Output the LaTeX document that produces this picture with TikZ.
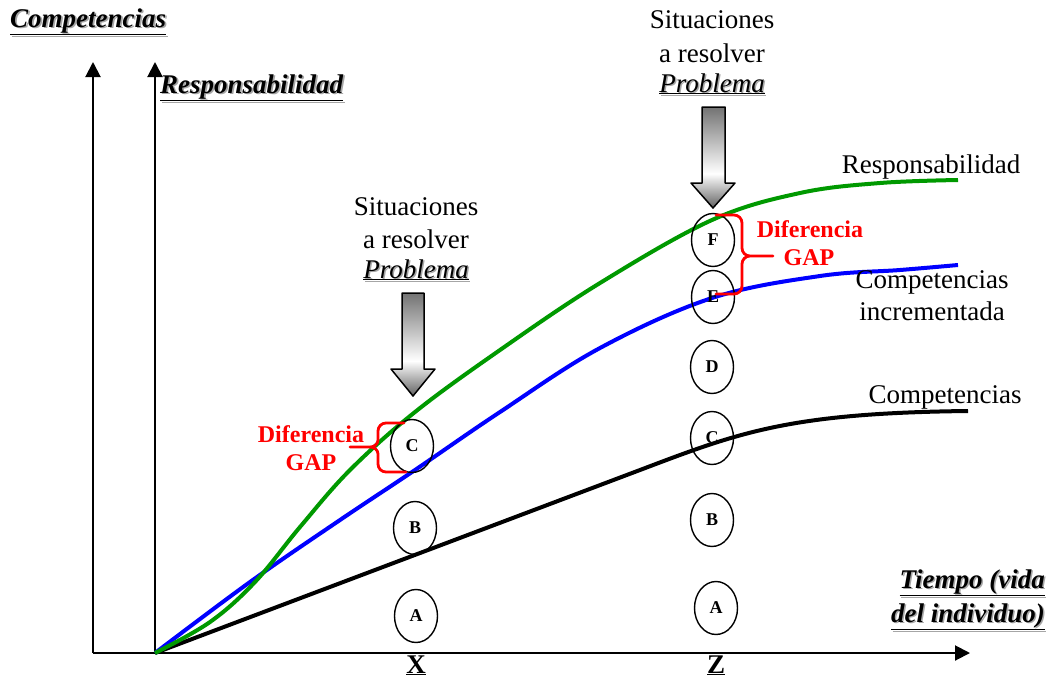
\documentclass[tikz,border=0pt]{standalone}
\usepackage{fontspec}
\setmainfont{Liberation Serif}
\usetikzlibrary{shapes.geometric,arrows.meta}

% bold italic underlined heading with a soft grey drop shadow
\newcommand{\shtext}[1]{\leavevmode\rlap{\kern1.6pt\raisebox{-1.6pt}{\textcolor{black!35}{#1}}}#1}

% grey-white-grey fill for the problem arrows (white band low on the shaft)
\pgfdeclareverticalshading{probshade}{100bp}{color(0bp)=(black!62); color(25bp)=(black!62);
  color(42bp)=(white); color(75bp)=(black!55); color(100bp)=(black!55)}

\begin{document}
\begin{tikzpicture}[x=1pt,y=-1pt,
  axis/.style={line width=2pt,-{Triangle[length=15pt,width=15pt]}},
  curve/.style={line width=4pt},
  stage/.style={ellipse,draw,line width=1.4pt,minimum width=43pt,minimum height=53pt,
    inner sep=0pt,font=\fontsize{18}{20}\selectfont\bfseries},
  big/.style={font=\fontsize{27}{32}\selectfont,inner sep=0pt},
  heading/.style={font=\fontsize{27}{32}\selectfont\bfseries\itshape,inner sep=0pt},
  gaplabel/.style={font=\fontsize{24}{27}\selectfont\bfseries,text=red,inner sep=0pt},
  brace/.style={draw=red,line width=2.8pt,line cap=round},
  blockarrow/.style={draw=black,line width=1.5pt,line join=round,shading=probshade}]
\useasboundingbox (0,0) rectangle (1052,681);

% axes
\coordinate (L0) at (93,653);
\coordinate (Ltop) at (93,62);
\coordinate (O) at (155,653);
\coordinate (Otop) at (155,62);
\coordinate (Tend) at (970,653);
\draw[axis] (L0) -- (Ltop);
\draw[axis] (O) -- (Otop);
\draw[line width=2pt] (L0) -- (O);
\draw[axis] (O) -- (Tend);

% curves
\draw[curve,black] (O) -- (640,470) .. controls (740,432) and (790,413) .. (968,411);
\draw[curve,blue] plot[smooth,tension=0.6] coordinates
  {(155,653) (250,582) (340,520) (415,470) (500,412) (600,348) (712,298) (820,276) (900,270) (958,265)};
\draw[curve,green!60!black] plot[smooth,tension=0.6] coordinates
  {(155,653) (210,622) (255,582) (300,527) (350,470) (415,412) (500,350) (600,283) (712,220) (800,193) (880,183) (958,180)};

% stages at X
\node[stage] (xa) at (416,616) {A};
\node[stage] (xb) at (415,528) {B};
\node[stage] (xc) at (412,446) {C};
% stages at Z
\node[stage] (za) at (716,608) {A};
\node[stage] (zb) at (712,520) {B};
\node[stage] (zc) at (712,438) {C};
\node[stage] (zd) at (712,367) {D};
\node[stage] (ze) at (713,297) {E};
\node[stage] (zf) at (713,240) {F};

% problem arrows
\path[blockarrow] (402,293) -- (424,293) -- (424,369) -- (435,369) -- (413,396) -- (391,369) -- (402,369) -- cycle;
\path[blockarrow] (702,107) -- (725,107) -- (725,183) -- (735,183) -- (713,208) -- (691,183) -- (702,183) -- cycle;

% gap braces
\draw[brace] (404,423) -- (386,423) to[out=180,in=90] (378,431) -- (378,440) to[out=-90,in=0] (370,447) -- (350,447)
  (370,447) to[out=0,in=90] (378,454) -- (378,464) to[out=-90,in=180] (386,472) -- (406,472);
\draw[brace] (716,215) -- (734,215) to[out=0,in=90] (742,223) -- (742,248) to[out=-90,in=180] (750,256) -- (773,256)
  (750,256) to[out=180,in=90] (742,264) -- (742,286) to[out=-90,in=0] (734,294) -- (716,294);

% gap labels
\node[gaplabel,anchor=base] (gx1) at (311,442) {Diferencia};
\node[gaplabel,anchor=base] (gx2) at (311,470) {GAP};
\node[gaplabel,anchor=base] (gz1) at (810,237) {Diferencia};
\node[gaplabel,anchor=base] (gz2) at (809,265) {GAP};

% problem captions
\node[big,anchor=base] (sx1) at (416,215) {Situaciones};
\node[big,anchor=base] (sx2) at (416,248) {a resolver};
\node[big,anchor=base] (sx3) at (416,278) {\shtext{\underline{\itshape Problema}}};
\node[big,anchor=base] (sz1) at (712,28) {Situaciones};
\node[big,anchor=base] (sz2) at (712,62) {a resolver};
\node[big,anchor=base] (sz3) at (712,92) {\shtext{\underline{\itshape Problema}}};

% curve labels
\node[big,anchor=base] (lr) at (931,173) {Responsabilidad};
\node[big,anchor=base] (li1) at (932,288) {Competencias};
\node[big,anchor=base] (li2) at (932,320) {incrementada};
\node[big,anchor=base] (lc) at (945,403) {Competencias};

% axis titles
\node[heading,anchor=base west] (tc) at (10,27) {\shtext{\underline{Competencias}}};
\node[heading,anchor=base west] (tr) at (160,93) {\shtext{\underline{Responsabilidad}}};
\node[heading,anchor=base east] (tt1) at (1045,588) {\shtext{\underline{Tiempo (vida}}};
\node[heading,anchor=base east] (tt2) at (1045,622) {\shtext{\underline{del individuo)}}};

% time marks
\node[big,font=\fontsize{27}{32}\selectfont\bfseries,anchor=base] (mx) at (416,673) {\underline{X}};
\node[big,font=\fontsize{27}{32}\selectfont\bfseries,anchor=base] (mz) at (716,673) {\underline{Z}};
\end{tikzpicture}
\end{document}
